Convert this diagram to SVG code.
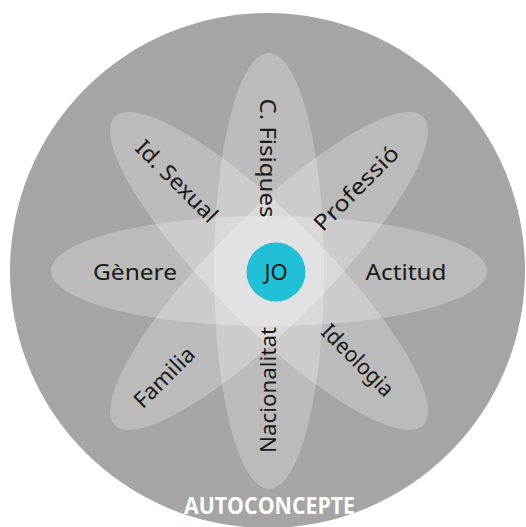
<svg xmlns="http://www.w3.org/2000/svg" width="526" height="527" viewBox="0 0 526 527">
<style>
  .petal { fill: #ffffff; fill-opacity: 0.25; }
  .lbl { font-family: "Noto Sans", "DejaVu Sans", sans-serif; font-size: 22px; fill: #1a1a1a; text-anchor: middle; }
  .title { font-family: "Open Sans", "Liberation Sans", sans-serif; font-size: 23px; font-weight: bold; fill: #ffffff; text-anchor: middle; }
</style>
<rect width="526" height="527" fill="#ffffff"/>
<g id="autoconcepte">
  <circle cx="267.5" cy="270.5" r="257.5" fill="#a5a5a5"/>
  <text class="title" x="269.5" y="514" textLength="171" lengthAdjust="spacingAndGlyphs">AUTOCONCEPTE</text>
</g>
<g id="petals">
  <ellipse class="petal" cx="269" cy="271" rx="218" ry="55"/>
  <ellipse class="petal" cx="269" cy="271" rx="218" ry="55" transform="rotate(90 269 271)"/>
  <ellipse class="petal" cx="269" cy="271" rx="218" ry="55" transform="rotate(45 269 271)"/>
  <ellipse class="petal" cx="269" cy="271" rx="218" ry="55" transform="rotate(-45 269 271)"/>
</g>
<g id="connectors"></g>
<g id="genere"><text class="lbl" x="135" y="280" textLength="84" lengthAdjust="spacingAndGlyphs">Gènere</text></g>
<g id="actitud"><text class="lbl" x="406" y="280" textLength="81" lengthAdjust="spacingAndGlyphs">Actitud</text></g>
<g id="fisiques" transform="translate(268 158) rotate(90)"><text class="lbl" x="0" y="8" textLength="119" lengthAdjust="spacingAndGlyphs">C. Fisiques</text></g>
<g id="nacionalitat" transform="translate(268 390) rotate(-90)"><text class="lbl" x="0" y="8" textLength="126" lengthAdjust="spacingAndGlyphs">Nacionalitat</text></g>
<g id="sexual" transform="translate(177 181) rotate(45)"><text class="lbl" x="0" y="8" textLength="106" lengthAdjust="spacingAndGlyphs">Id. Sexual</text></g>
<g id="professio" transform="translate(356 188) rotate(-45)"><text class="lbl" x="0" y="8" textLength="110" lengthAdjust="spacingAndGlyphs">Professió</text></g>
<g id="familia" transform="translate(164 377) rotate(-45)"><text class="lbl" x="0" y="8" textLength="76" lengthAdjust="spacingAndGlyphs">Familia</text></g>
<g id="ideologia" transform="translate(358 360) rotate(45)"><text class="lbl" x="0" y="8" textLength="92" lengthAdjust="spacingAndGlyphs">Ideologia</text></g>
<g id="jo">
  <circle cx="276" cy="272" r="29.5" fill="#21bfd5"/>
  <text class="lbl" x="276" y="280" font-size="21">JO</text>
</g>
</svg>
